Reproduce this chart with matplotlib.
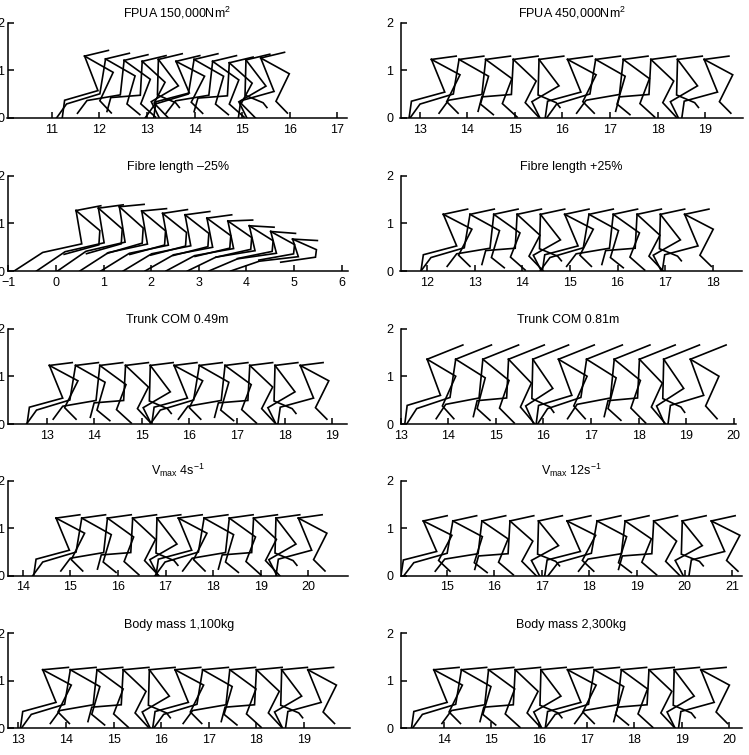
import numpy as np
import matplotlib.pyplot as plt
from matplotlib.ticker import MultipleLocator

plt.rcParams['font.family'] = ['Liberation Sans', 'DejaVu Sans']
plt.rcParams['mathtext.fontset'] = 'custom'
plt.rcParams['mathtext.rm'] = 'Liberation Sans'

# leg poses: knee, ankle, toe relative to the hip (hip height 1.22)
leg_poses = [
    [(0.48, -0.45), (0.25, -0.90), (0.55, -1.22)],    # 0 touchdown
    [(0.42, -0.55), (-0.15, -0.88), (0.02, -1.22)],   # 1 mid stance
    [(0.28, -0.68), (-0.42, -0.87), (-0.47, -1.22)],  # 2 late stance
    [(-0.12, -0.72), (-0.82, -0.93), (-1.03, -1.22)], # 3 push off
    [(-0.08, -0.73), (-0.78, -0.85), (-0.98, -1.12)], # 4 lift off
    [(-0.04, -0.73), (-0.66, -0.78), (-0.74, -1.08)], # 5 foot tucked back
    [(-0.02, -0.74), (0.36, -0.90), (0.44, -1.00)],   # 6 swing
    [(0.60, -0.32), (0.32, -0.88), (0.56, -1.12)],    # 7 knee up
    [(0.62, -0.35), (0.45, -0.93), (0.72, -1.15)],    # 8 reach
    [(0.55, -0.40), (0.35, -0.92), (0.66, -1.20)],    # 9 pre contact
]
# crouched poses for the short-fibre run
crouch_poses = [
    [(0.12, -0.70), (-0.70, -0.88), (-1.30, -1.27)],
    [(0.50, -0.42), (0.48, -0.72), (-0.25, -0.92)],
]

seq_a = [2, 3, 4, 5, 6, 7, 8, 9, 0, 1, 2]
seq_b = [7, 8, 9, 0, 1, 2, 3, 4, 5, 6, 7]

titles = ['FPUA 150,000Nm$\\mathregular{^2}$', 'FPUA 450,000Nm$\\mathregular{^2}$',
          'Fibre length \u201325%', 'Fibre length +25%',
          'Trunk COM 0.49m', 'Trunk COM 0.81m',
          'V$\\mathregular{_{max}}$ 4s$\\mathregular{^{-1}}$',
          'V$\\mathregular{_{max}}$ 12s$\\mathregular{^{-1}}$',
          'Body mass 1,100kg', 'Body mass 2,300kg']

x_limits = [(10.07, 17.2), (12.6, 19.79), (-1.02, 6.14), (11.44, 18.62),
            (12.18, 19.31), (13.0, 20.04), (13.68, 20.83), (14.03, 21.21),
            (12.77, 19.97), (13.09, 20.26)]

hip_x = [
    [11.69, 12.13, 12.52, 12.90, 13.24, 13.61, 13.99, 14.38, 14.73, 15.08, 15.39],
    [13.25, 13.83, 14.39, 14.97, 15.51, 16.11, 16.70, 17.28, 17.86, 18.42, 18.98],
    [0.42, 0.89, 1.33, 1.80, 2.24, 2.71, 3.17, 3.61, 4.06, 4.51, 4.97],
    [12.34, 12.90, 13.40, 13.89, 14.38, 14.89, 15.40, 15.91, 16.41, 16.90, 17.41],
    [13.06, 13.61, 14.12, 14.66, 15.18, 15.68, 16.21, 16.75, 17.27, 17.80, 18.33],
    [13.56, 14.16, 14.73, 15.27, 15.78, 16.32, 16.91, 17.49, 18.02, 18.53, 19.09],
    [14.70, 15.24, 15.78, 16.31, 16.82, 17.27, 17.81, 18.34, 18.85, 19.32, 19.79],
    [14.51, 15.13, 15.74, 16.33, 16.93, 17.53, 18.16, 18.75, 19.35, 19.95, 20.56],
    [13.51, 14.09, 14.65, 15.20, 15.75, 16.29, 16.87, 17.44, 18.00, 18.53, 19.08],
    [13.79, 14.37, 14.94, 15.50, 16.04, 16.60, 17.16, 17.73, 18.31, 18.84, 19.40],
]
hip_y = [
    [1.30, 1.24, 1.21, 1.19, 1.23, 1.19, 1.23, 1.19, 1.16, 1.22, 1.26],
    [1.23] * 11,
    [1.27, 1.32, 1.35, 1.26, 1.21, 1.18, 1.11, 1.05, 0.95, 0.83, 0.67],
    [1.19] * 11,
    [1.23] * 11,
    [1.36] * 11,
    [1.21] * 11,
    [1.15] * 11,
    [1.23] * 11,
    [1.23] * 11,
]
trunk_dx = [0.50, 0.52, 0.52, 0.51, 0.48, 0.75, 0.50, 0.50, 0.54, 0.53]
trunk_dy = [
    [0.12] * 11,
    [0.07] * 11,
    [0.10, 0.07, 0.05, 0.05, 0.08, 0.07, 0.07, 0.02, -0.03, -0.04, -0.03],
    [0.11] * 11,
    [0.06] * 11,
    [0.30] * 11,
    [0.07] * 11,
    [0.11] * 11,
    [0.05] * 11,
    [0.05] * 11,
]

fig = plt.figure(figsize=(7.49, 7.55), dpi=100)
W, H = 749.0, 755.0
px_per_unit = 47.6
col_left = [7.5, 400.5]
row_base = [118, 271, 424, 575.7, 728.3]

for p in range(10):
    r, c = p // 2, p % 2
    x0, x1 = x_limits[p]
    w_px = (x1 - x0) * px_per_unit
    h_px = 2 * px_per_unit
    ax = fig.add_axes([col_left[c] / W, 1 - row_base[r] / H, w_px / W, h_px / H])
    for k in range(11):
        hx, hy = hip_x[p][k], hip_y[p][k]
        if p == 2:
            s = hy / 1.27
            legs = crouch_poses
        else:
            s = hy / 1.22
            legs = [leg_poses[seq_a[k]], leg_poses[seq_b[k]]]
        for leg in legs:
            xs = [hx] + [hx + dx for dx, dy in leg]
            ys = [hy] + [hy + dy * s for dx, dy in leg]
            ax.plot(xs, ys, color='black', lw=1.2, solid_joinstyle='miter')
        ax.plot([hx, hx + trunk_dx[p]], [hy, hy + trunk_dy[p][k]], color='black', lw=1.2)
    ax.set_xlim(x0, x1)
    ax.set_ylim(0, 2)
    ax.spines['top'].set_visible(False)
    ax.spines['right'].set_visible(False)
    for sp in ['left', 'bottom']:
        ax.spines[sp].set_linewidth(1.1)
    ax.xaxis.set_major_locator(MultipleLocator(1))
    ax.set_yticks([0, 1, 2])
    ax.tick_params(direction='in', length=4, width=1.1, labelsize=9)
    ax.tick_params(axis='x', pad=4)
    ax.tick_params(axis='y', pad=2.5 if c == 0 else 5)
    ax.set_title(titles[p], fontsize=9, pad=4)

fig.savefig('out.png', dpi=100)
